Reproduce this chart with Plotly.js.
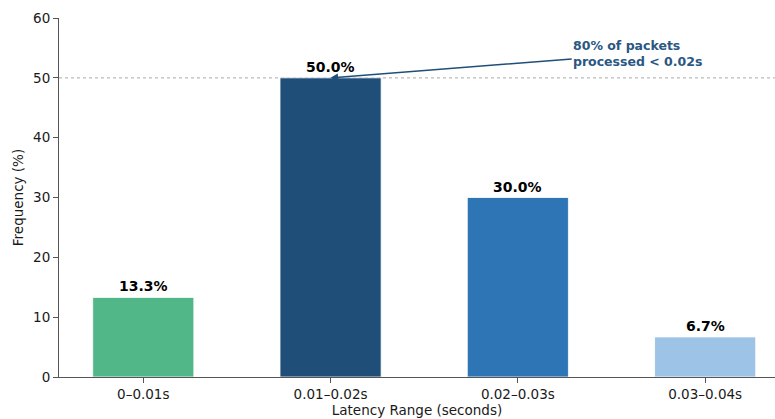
<!DOCTYPE html>
<html>
<head>
<meta charset="utf-8">
<script src="https://cdn.plot.ly/plotly-3.0.1.min.js"></script>
<style>html,body{margin:0;padding:0;background:#fff;}#chart{width:775px;height:419px;}</style>
</head>
<body>
<div id="chart"></div>
<script>
const categories = ["0–0.01s", "0.01–0.02s", "0.02–0.03s", "0.03–0.04s"];
const frequencies = [13.3, 50.0, 30.0, 6.7];
const labels = ["13.3%", "50.0%", "30.0%", "6.7%"];
const colors = ["#52b788", "#1f4e79", "#2e75b6", "#9dc3e6"];
const noteText = "80% of packets<br>processed < 0.02s";
const threshold = 50;

const idx = categories.map((_, i) => i);

const trace = {
  type: "bar",
  x: idx,
  y: frequencies,
  width: 0.54,
  marker: {color: colors, line: {color: "#ffffff", width: 0.8}},
  hoverinfo: "skip"
};

const annotations = idx.map(i => ({
  x: i, y: frequencies[i], xref: "x", yref: "y",
  text: "<b>" + labels[i] + "</b>", showarrow: false,
  yanchor: "bottom", yshift: 1,
  font: {family: "DejaVu Sans", size: 14, color: "#000"}
}));
annotations.push({
  x: 1.0, y: threshold, xref: "x", yref: "y",
  ax: 2.64, ay: 54.0, axref: "x", ayref: "y",
  text: "<b>" + noteText + "</b>", align: "left",
  showarrow: true, arrowhead: 2, arrowsize: 1, arrowwidth: 1.5,
  arrowcolor: "#1f4e79",
  font: {family: "DejaVu Sans", size: 12.5, color: "#2a5783"}
});

const layout = {
  width: 775, height: 419,
  margin: {l: 59, r: 0, t: 18, b: 42},
  paper_bgcolor: "#fff", plot_bgcolor: "#fff",
  showlegend: false,
  font: {family: "DejaVu Sans", size: 13, color: "#1a1a1a"},
  xaxis: {
    range: [-0.45, 3.373],
    tickvals: idx, ticktext: categories,
    ticks: "outside", ticklen: 5, tickcolor: "#555",
    showline: true, linecolor: "#555", linewidth: 1,
    showgrid: false, zeroline: false,
    tickfont: {size: 13.5, color: "#1a1a1a"},
    title: {text: "Latency Range (seconds)", font: {size: 13.5, color: "#1a1a1a"}, standoff: 4}
  },
  yaxis: {
    range: [0, 60], tickvals: [0, 10, 20, 30, 40, 50, 60],
    ticks: "outside", ticklen: 5, tickcolor: "#555",
    showline: true, linecolor: "#555", linewidth: 1,
    showgrid: false, zeroline: false,
    tickfont: {size: 13.5, color: "#1a1a1a"},
    title: {text: "Frequency (%)", font: {size: 13.5, color: "#1a1a1a"}, standoff: 6}
  },
  shapes: [{
    type: "line", xref: "paper", x0: 0, x1: 1, yref: "y", y0: threshold, y1: threshold,
    line: {color: "#bbbbbb", width: 1.2, dash: "dot"}, layer: "below"
  }],
  annotations: annotations
};

Plotly.newPlot("chart", [trace], layout, {displayModeBar: false, staticPlot: true});
</script>
</body>
</html>
